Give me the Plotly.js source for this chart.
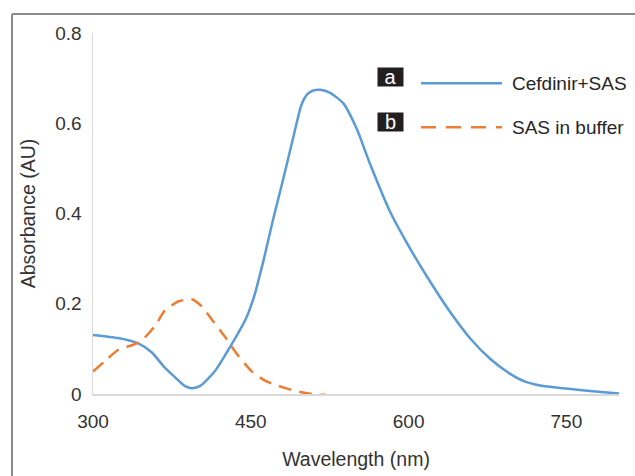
<!DOCTYPE html>
<html>
<head>
<meta charset="utf-8">
<script src="https://cdn.plot.ly/plotly-3.0.1.min.js"></script>
<style>
  html, body { margin: 0; padding: 0; background: #fff; }
  #chart { width: 635px; height: 476px; }
</style>
</head>
<body>
<div id="chart"></div>
<script>
// Series: Cefdinir+SAS (blue, solid)
const waveBlue = [300, 324, 343, 356, 368, 378, 387, 394, 402, 416, 430, 445, 453, 462, 471, 481, 491, 498, 504, 510, 516, 525, 538, 551, 563, 583, 602, 621, 640, 659, 678, 697, 710, 725, 750, 775, 800];
const absBlue  = [0.131, 0.124, 0.112, 0.092, 0.059, 0.037, 0.018, 0.013, 0.018, 0.051, 0.103, 0.165, 0.215, 0.295, 0.385, 0.478, 0.575, 0.640, 0.665, 0.673, 0.674, 0.668, 0.644, 0.586, 0.512, 0.401, 0.320, 0.247, 0.180, 0.122, 0.077, 0.044, 0.028, 0.019, 0.012, 0.006, 0.001];

// Series: SAS in buffer (orange, dashed)
const waveOrange = [300, 311, 324, 337, 346, 359, 368, 381, 394, 403, 414, 426, 438, 451, 464, 483, 498, 514, 521];
const absOrange  = [0.050, 0.072, 0.098, 0.108, 0.118, 0.151, 0.184, 0.205, 0.210, 0.195, 0.162, 0.125, 0.085, 0.050, 0.029, 0.013, 0.004, -0.002, -0.001];

const seriesNames = ['Cefdinir+SAS', 'SAS in buffer'];
const seriesKeys = ['a', 'b'];
const xTicks = [300, 450, 600, 750];
const yTicks = [0, 0.2, 0.4, 0.6, 0.8];
const yTickText = ['0', '0.2', '0.4', '0.6', '0.8'];

const blue = '#5B9BD5';
const orange = '#ED7D31';
const FONT = '"Liberation Sans", Arial, Helvetica, sans-serif';

// layout geometry (pixels)
const W = 635, H = 476;
const M = {l: 93, r: 16, t: 33, b: 82};
const PW = W - M.l - M.r, PH = H - M.t - M.b;
const px = x => (x - M.l) / PW;
const py = y => (H - M.b - y) / PH;

const traces = [
  {x: waveBlue, y: absBlue, name: seriesNames[0], type: 'scatter', mode: 'lines',
   line: {color: blue, width: 2.5, shape: 'spline', smoothing: 0.6}},
  {x: waveOrange, y: absOrange, name: seriesNames[1], type: 'scatter', mode: 'lines',
   line: {color: orange, width: 2.5, dash: '13px,8px', shape: 'spline', smoothing: 0.6}}
];

const legendRows = [83.3, 127.3];
const boxRows = [76.7, 122.5];
const colors = [blue, orange];
const dashes = ['solid', '15px,10px'];

const shapes = [
  // outer frame (left + top)
  {type: 'line', xref: 'paper', yref: 'paper', x0: px(12), x1: px(12), y0: py(14), y1: py(H + 2),
   line: {color: '#8c8c8c', width: 2}},
  {type: 'line', xref: 'paper', yref: 'paper', x0: px(12), x1: px(W + 2), y0: py(14), y1: py(14),
   line: {color: '#8c8c8c', width: 2}}
];
const annotations = [];
for (let i = 0; i < 2; i++) {
  shapes.push({type: 'line', xref: 'paper', yref: 'paper', x0: px(421), x1: px(502),
    y0: py(legendRows[i]), y1: py(legendRows[i]), line: {color: colors[i], width: 2.5, dash: dashes[i]}});
  annotations.push({xref: 'paper', yref: 'paper', x: px(390), y: py(boxRows[i]), text: seriesKeys[i],
    showarrow: false, xanchor: 'center', yanchor: 'middle', bgcolor: '#231f20',
    width: 25, height: 18, borderpad: 0, font: {family: FONT, size: 20, color: '#ffffff'}});
  annotations.push({xref: 'paper', yref: 'paper', x: px(510), y: py(legendRows[i]), text: seriesNames[i],
    showarrow: false, xanchor: 'left', yanchor: 'middle', font: {family: FONT, size: 19, color: '#262626'}});
}

const layout = {
  width: W, height: H,
  margin: M,
  paper_bgcolor: '#ffffff', plot_bgcolor: '#ffffff',
  showlegend: false,
  font: {family: FONT, size: 19, color: '#333333'},
  xaxis: {
    range: [300, 800], tickvals: xTicks, ticktext: xTicks.map(String),
    showgrid: false, zeroline: false, showline: true, linecolor: '#d9d9d9', linewidth: 2,
    ticks: '', ticklabelstandoff: 9,
    tickfont: {family: FONT, size: 19, color: '#333333'},
    title: {text: 'Wavelength (nm)', standoff: 22, font: {family: FONT, size: 19.5, color: '#333333'}}
  },
  yaxis: {
    range: [0, 0.8], tickvals: yTicks, ticktext: yTickText,
    showgrid: false, zeroline: false, showline: true, linecolor: '#d9d9d9', linewidth: 1.5,
    ticks: '', ticklabelstandoff: 6,
    tickfont: {family: FONT, size: 19, color: '#333333'},
    title: {text: 'Absorbance (AU)', standoff: 14, font: {family: FONT, size: 19.5, color: '#333333'}}
  },
  shapes: shapes,
  annotations: annotations
};

Plotly.newPlot('chart', traces, layout, {displayModeBar: false, staticPlot: true});
</script>
</body>
</html>
